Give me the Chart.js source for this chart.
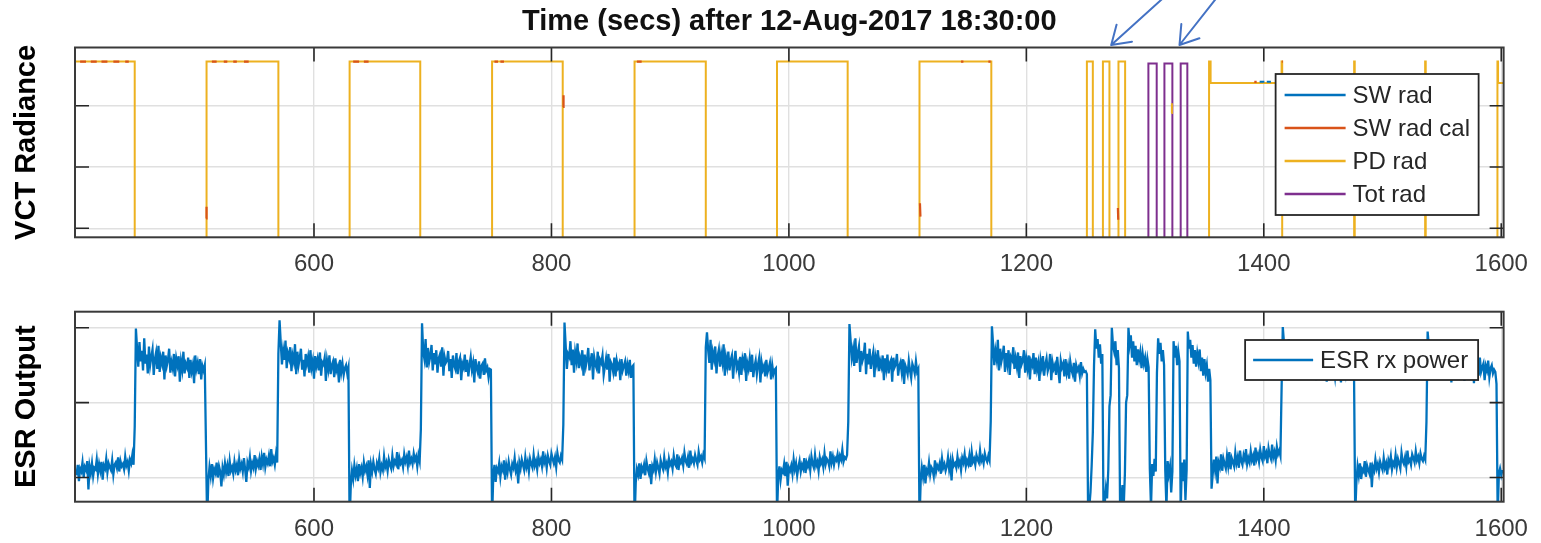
<!DOCTYPE html>
<html><head><meta charset="utf-8">
<script src="https://cdn.jsdelivr.net/npm/chart.js@4.4.1/dist/chart.umd.min.js"></script>
<style>
html,body{margin:0;padding:0;background:#fff;width:1541px;height:543px;overflow:hidden;}
canvas{position:absolute;left:0;}
#c1{top:0;} #c2{top:290px;}
</style></head><body>
<canvas id="c1" width="1541" height="290" style="width:1541px;height:290px"></canvas>
<canvas id="c2" width="1541" height="253" style="width:1541px;height:253px"></canvas>
<script>
// ---------- text ----------
const titleText = 'Time (secs) after 12-Aug-2017 18:30:00';
const topYLabel = 'VCT Radiance';
const bottomYLabel = 'ESR Output';

// ---------- axes ----------
const xTickValues = [600, 800, 1000, 1200, 1400, 1600];
const xRange = [398.7, 1602];
const yTickValuesTop = [0, 100, 200];
const yRangeTop = [-14.7, 295];
const yTickValuesBottom = [0, 100, 200];
const yRangeBottom = [-32.3, 221.4];

// ---------- top panel series ----------
const pdRadTimes  = [398, 449, 509.5, 570, 630, 689.5, 750, 809.5, 870, 930, 990, 1049.5, 1110, 1170.5, 1251, 1256, 1264.5, 1270, 1277.6, 1283.2, 1300, 1322.2, 1322.6, 1340, 1353.6, 1353.9, 1355.2, 1415, 1415.5, 1476.1, 1476.6, 1535.9, 1536.4, 1596.8, 1597.3, 1602];
const pdRadValues = [272, -100, 272, -100, 272, -100, 272, -100, 272, -100, 272, -100, 272, -100, 272, -100, 272, -100, 272, -100, null, 188, 204, null, -100, 272, 237, 272, -100, 272, -100, 272, -100, 272, 237, 237];

const totRadTimes  = [1290, 1302.8, 1309.8, 1316.3, 1323, 1330, 1335.6, 1345];
const totRadValues = [-100, 269, -100, 269, -100, 269, -100, -100];

const swRadCalSegTimes  = [[403,408],[412,417],[421,426],[431,436],[441,444],[509.1,509.5],[514,518],[524,527],[532,535],[541,545],[633,638],[642,646],[752,755],[757,760],[809.8,810.2],[872,876],[1110.4,1110.8],[1145,1147],[1168,1170],[1277.1,1277.4],[1392,1394],[1415.2,1416]];
const swRadCalSegValues = [[272,272],[272,272],[272,272],[272,272],[272,272],[16,35],[272,272],[272,272],[272,272],[272,272],[272,272],[272,272],[272,272],[272,272],[198,217],[272,272],[41,19],[272,272],[272,272],[33,14],[239,239],[272,272]];

const swRadSegTimes  = [[1396.5,1400.5],[1402.5,1406]];
const swRadSegValues = [[239,239],[239,239]];

// ---------- bottom panel series (ESR rx power, 1 s sampling inside each segment) ----------
const esrSegStep = 1;
const esrSegStart = [400, 449, 510, 570, 630, 690, 750, 810, 870, 930, 990, 1050, 1110, 1170, 1250, 1357, 1415, 1477, 1537, 1597];
const esrSegValues = [
  [3, 17, -5, 12, 8, 20, 0, 14, 10, 22, -16, 15, 6, 19, 2, 13, 11, 24, 5, 18, 9, 21, -3, 16, 12, 25, 7, 19, 14, 10, 23, 4, 17, 20, 13, 27, 8, 22, 15, 18, 11, 28, 16, 21, 9, 24, 19, 30, 17],
  [68, 199, 172, 148, 181, 155, 169, 143, 186, 152, 164, 139, 175, 150, 161, 171, 137, 158, 167, 145, 176, 141, 160, 152, 168, 131, 163, 149, 157, 172, 140, 154, 146, 165, 135, 159, 150, 162, 128, 155, 144, 168, 139, 152, 147, 160, 133, 157, 142, 151, 126, 163, 145, 153, 138, 158, 131, 149, 143, 150],
  [-60, -4, 14, 2, 18, -1, 11, 6, 20, 0, 15, 8, -12, 13, 4, 19, 7, 16, 2, 22, 9, 14, 5, 21, 10, 17, 3, 24, 12, 18, 8, 26, 11, -6, 20, 14, 27, 9, 19, 13, 30, 12, 22, 16, 25, 10, 28, 18, 33, 14, 24, 19, 29, 15, 38, 21, 26, 17, 31, 20],
  [165, 210, 180, 151, 170, 157, 183, 146, 166, 159, 174, 142, 163, 155, 178, 138, 168, 150, 160, 172, 144, 157, 135, 165, 152, 161, 140, 170, 147, 156, 132, 162, 149, 158, 143, 167, 136, 154, 151, 160, 129, 156, 145, 163, 138, 150, 155, 134, 159, 143, 148, 127, 157, 141, 152, 137, 146, 150, 139, 147],
  [-60, -10, 9, -2, 16, 3, 12, -5, 18, 6, 13, 1, 20, 9, 15, 4, 23, -14, 17, 8, 21, 11, 5, 19, 13, 25, 7, 16, 10, 28, 14, 20, 9, 24, 17, 12, 29, 15, 22, 18, 34, 11, 26, 19, 23, 14, 31, 21, 27, 16, 36, 20, 25, 18, 32, 23, 28, 15, 30, 22],
  [64, 206, 168, 158, 185, 147, 173, 154, 162, 177, 143, 166, 151, 170, 140, 159, 164, 148, 174, 136, 161, 153, 156, 169, 142, 158, 133, 163, 150, 145, 166, 138, 155, 160, 130, 152, 147, 164, 141, 157, 135, 150, 161, 144, 153, 127, 158, 146, 140, 155, 132, 149, 152, 137, 159, 143, 147, 134, 145, 144],
  [-55, 2, 17, -6, 12, 8, 19, 1, 15, 10, 23, -3, 16, 7, 21, 11, 4, 18, 13, 26, 9, 15, -8, 20, 12, 24, 17, 10, 27, 14, 21, 8, 25, 18, 13, 30, 16, 22, 11, 28, 19, 24, 15, 35, 20, 26, 13, 29, 22, 17, 32, 25, 19, 27, 14, 33, 23, 20, 29, 24],
  [70, 207, 176, 145, 165, 161, 182, 150, 171, 140, 167, 156, 179, 146, 160, 152, 170, 136, 164, 149, 158, 173, 143, 155, 166, 131, 161, 151, 146, 168, 139, 157, 153, 163, 137, 148, 159, 144, 165, 128, 154, 150, 141, 160, 135, 156, 147, 152, 130, 158, 143, 149, 155, 136, 151, 142, 157, 133, 148, 150],
  [-60, -7, 11, 4, 19, -2, 14, 9, 17, 3, 22, 12, 6, 18, -9, 15, 10, 24, 8, 20, 13, 5, 23, 16, 11, 27, 14, 19, 7, 25, 17, 21, 12, 29, 18, 15, 31, 10, 24, 20, 26, 16, 33, 22, 18, 27, 13, 36, 21, 25, 19, 30, 23, 17, 34, 24, 28, 20, 31, 26],
  [174, 194, 170, 153, 184, 144, 167, 158, 175, 139, 162, 171, 148, 165, 154, 178, 136, 160, 149, 168, 143, 157, 163, 132, 155, 169, 146, 152, 140, 161, 137, 158, 150, 166, 129, 153, 145, 159, 141, 164, 134, 148, 156, 138, 151, 160, 127, 154, 144, 149, 135, 157, 140, 146, 153, 131, 150, 138, 144, 146],
  [-50, 0, 15, -3, 10, 7, 18, 2, 21, -11, 13, 9, 16, 5, 24, 11, 19, 3, 14, 22, 8, 17, 12, 26, 6, 20, 15, 23, 10, 28, 18, 13, 30, 16, 21, 9, 27, 19, 24, 14, 32, 18, 25, 22, 15, 35, 20, 28, 17, 26, 23, 31, 19, 29, 24, 37, 21, 27, 25, 30],
  [74, 205, 183, 160, 171, 149, 186, 153, 166, 175, 141, 169, 156, 162, 180, 138, 165, 151, 172, 145, 158, 167, 134, 161, 152, 170, 142, 155, 148, 163, 130, 159, 146, 164, 139, 153, 157, 128, 160, 147, 151, 165, 136, 149, 154, 141, 158, 125, 150, 145, 138, 156, 143, 133, 152, 147, 139, 155, 141, 145],
  [-60, -5, 13, 1, 17, -8, 10, 6, 20, 4, 14, 11, 2, 23, 8, 16, 12, 19, 5, 25, 13, 18, 9, 15, 27, 11, 21, -4, 24, 16, 19, 13, 28, 17, 22, 10, 26, 20, 31, 15, 23, 18, 29, 14, 34, 21, 25, 17, 30, 24, 20, 36, 22, 27, 19, 32, 25, 21, 29, 23],
  [75, 202, 178, 150, 169, 158, 184, 143, 172, 155, 163, 176, 141, 166, 152, 170, 137, 161, 157, 174, 145, 159, 148, 167, 133, 162, 151, 156, 170, 140, 158, 146, 163, 131, 155, 150, 166, 138, 160, 144, 153, 129, 157, 147, 162, 136, 151, 159, 142, 148, 165, 130, 154, 145, 150, 137, 161, 143, 126, 156, 147, 152, 135, 158, 140, 149, 132, 155, 144, 138, 153, 128, 150, 143, 147, 136, 154, 139, 145, 141],
  [142, 138, -45, -40, -20, 15, 60, 150, 198, 172, 185, 160, 178, 152, 165, -50, -35, -15, -28, 10, 95, 110, 200, 176, 168, 182, 150, 170, 146, -50, -30, -10, -40, 5, 100, 110, 200, 178, 190, 160, 182, 155, 176, 150, 171, 158, 168, 146, 165, 152, 160, 141, 158, 147, 12, -40, 18, 2, 25, 8, 140, 186, 165, 180, 155, 170, 150, 10, -40, 22, 5, 15, -20, 8, 182, 160, 176, 150, 168, 155, -45, 20, -5, 24, -30, 10, 195, 172, 184, 160, 177, 152, 170, 148, 166, 155, 171, 142, 160, 136, 158, 140, 150, 128, 145, 130, -15],
  [5, 24, 10, 28, -8, 20, 14, 31, 9, 25, 18, 12, 29, 16, 34, 11, 26, 21, 15, 33, 19, 27, 13, 36, 22, 17, 30, 24, 38, 18, 26, 20, 35, 23, 29, 16, 40, 25, 31, 21, 37, 27, 22, 42, 28, 33, 19, 39, 30, 25, 44, 27, 34, 23, 41, 31, 36, 29],
  [120, 201, 180, 147, 172, 160, 185, 151, 168, 142, 176, 155, 163, 170, 138, 159, 152, 174, 145, 166, 133, 161, 156, 148, 169, 140, 158, 153, 164, 130, 155, 147, 162, 137, 151, 159, 143, 167, 128, 154, 149, 160, 139, 157, 146, 134, 152, 158, 141, 150, 127, 156, 144, 148, 138, 153, 131, 149, 142, 146, 137, 138],
  [-50, -6, 15, 3, 19, -2, 11, 8, 22, 1, 16, 10, 5, 20, -13, 14, 9, 24, 12, 18, 7, 21, 15, 10, 26, 13, 19, 4, 23, 17, 28, 11, 20, 16, 30, 14, 25, 19, 12, 33, 22, 18, 27, 15, 36, 21, 24, 17, 31, 26, 20, 35, 23, 28, 19, 32, 25, 22, 29, 24],
  [74, 195, 176, 143, 170, 158, 182, 137, 164, 151, 173, 147, 161, 168, 132, 156, 149, 171, 140, 163, 154, 127, 160, 145, 165, 138, 152, 158, 135, 162, 147, 150, 129, 157, 143, 166, 139, 153, 148, 159, 126, 151, 144, 155, 136, 160, 141, 147, 152, 130, 149, 143, 156, 134, 146, 150, 139, 144, 141, 125],
  [-50, 5, 12, 3, 10]
];

// ---------- annotation arrows (tip times on the top axis) ----------
const arrowTipTimes = [1271.5, 1329];

// ---------- helpers ----------
const FONT = "'Liberation Sans', Arial, Helvetica, sans-serif";
const pairs = (t, v) => t.map((x, i) => ({x, y: v[i]}));
const segs = (T, V) => {
  const out = [];
  T.forEach((seg, k) => {
    if (k) out.push({x: (T[k-1][T[k-1].length-1] + seg[0]) / 2, y: null});
    seg.forEach((x, i) => out.push({x, y: V[k][i]}));
  });
  return out;
};
const esrData = [];
esrSegStart.forEach((s, k) => esrSegValues[k].forEach((v, j) => esrData.push({x: s + esrSegStep * j, y: v})));

// ---------- plugins ----------
const framePlugin = {
  id: 'matlabFrame',
  afterDatasetsDraw(chart, args, o) {
    const {ctx, chartArea: a, scales: {x, y}} = chart;
    ctx.save();
    ctx.strokeStyle = '#262626';
    ctx.lineWidth = 1.6;
    ctx.beginPath();
    o.xTicks.forEach(v => {
      const px = x.getPixelForValue(v);
      ctx.moveTo(px, a.top); ctx.lineTo(px, a.top + o.len);
      ctx.moveTo(px, a.bottom); ctx.lineTo(px, a.bottom - o.len);
    });
    o.yTicks.forEach(v => {
      const py = y.getPixelForValue(v);
      ctx.moveTo(a.left, py); ctx.lineTo(a.left + o.len, py);
      ctx.moveTo(a.right, py); ctx.lineTo(a.right - o.len, py);
    });
    ctx.stroke();
    ctx.lineWidth = 2;
    ctx.strokeStyle = '#3a3a3a';
    ctx.strokeRect(a.left, a.top, a.right - a.left, a.bottom - a.top);
    ctx.restore();
  }
};

const boxLegend = {
  id: 'boxLegend',
  afterDraw(chart, args, o) {
    const {ctx, chartArea: a} = chart;
    const left = a.right - o.right - o.width, top = a.top + o.top;
    ctx.save();
    ctx.fillStyle = '#fff';
    ctx.fillRect(left, top, o.width, o.height);
    ctx.strokeStyle = '#262626';
    ctx.lineWidth = 1.8;
    ctx.strokeRect(left, top, o.width, o.height);
    ctx.font = '24px ' + FONT;
    ctx.textBaseline = 'middle';
    ctx.textAlign = 'left';
    chart.data.datasets.forEach((ds, i) => {
      const yy = top + o.firstRow + i * o.rowGap;
      ctx.strokeStyle = ds.borderColor;
      ctx.lineWidth = 2.5;
      ctx.beginPath();
      ctx.moveTo(left + o.lineStart, yy); ctx.lineTo(left + o.lineEnd, yy);
      ctx.stroke();
      ctx.fillStyle = '#262626';
      ctx.fillText(ds.label, left + o.textX, yy + 1);
    });
    ctx.restore();
  }
};

const arrowPlugin = {
  id: 'arrows',
  afterDraw(chart, args, o) {
    const {ctx, chartArea: a, scales: {x}} = chart;
    ctx.save();
    ctx.strokeStyle = o.color;
    ctx.lineWidth = o.width;
    ctx.lineCap = 'round';
    o.tips.forEach((t, i) => {
      const tx = x.getPixelForValue(t), ty = a.top + o.tipDy;
      const [dx, dy] = o.tails[i];
      const sx = tx + dx, sy = ty + dy;
      const ang = Math.atan2(sy - ty, sx - tx);
      ctx.beginPath();
      ctx.moveTo(sx, sy); ctx.lineTo(tx, ty);
      [-1, 1].forEach(s => {
        ctx.moveTo(tx, ty);
        ctx.lineTo(tx + o.head * Math.cos(ang + s * o.spread), ty + o.head * Math.sin(ang + s * o.spread));
      });
      ctx.stroke();
    });
    ctx.restore();
  }
};

function scalesFor(yLabel, yRange, yTicks, xAxisHeight) {
  return {
    x: {
      type: 'linear', min: xRange[0], max: xRange[1],
      afterBuildTicks: s => { s.ticks = xTickValues.map(v => ({value: v})); },
      afterFit: s => { s.height = xAxisHeight; },
      ticks: { font: {family: FONT, size: 24}, color: '#3a3a3a', padding: 13, maxRotation: 0, autoSkip: false, callback: v => String(v) },
      grid: { color: '#e0e0e0', lineWidth: 1.4, drawTicks: false },
      border: { display: false }
    },
    y: {
      type: 'linear', min: yRange[0], max: yRange[1],
      afterBuildTicks: s => { s.ticks = yTicks.map(v => ({value: v})); },
      afterFit: s => { s.width = 75; },
      ticks: { display: false },
      grid: { color: '#e0e0e0', lineWidth: 1.4, drawTicks: false },
      border: { display: false },
      title: { display: true, text: yLabel, font: {family: FONT, size: 29, weight: 'bold'}, color: '#000', padding: {top: 10, bottom: 0} }
    }
  };
}

const lineBase = { pointRadius: 0, pointHoverRadius: 0, tension: 0, fill: false, spanGaps: false, clip: 0 };

// ---------- top chart ----------
new Chart(document.getElementById('c1'), {
  type: 'line',
  data: {
    datasets: [
      Object.assign({ label: 'SW rad', data: segs(swRadSegTimes, swRadSegValues), borderColor: '#0072BD', borderWidth: 2 }, lineBase),
      Object.assign({ label: 'SW rad cal', data: segs(swRadCalSegTimes, swRadCalSegValues), borderColor: '#D95319', borderWidth: 2.2 }, lineBase),
      Object.assign({ label: 'PD rad', data: pairs(pdRadTimes, pdRadValues), borderColor: '#EDB120', borderWidth: 2, stepped: true }, lineBase),
      Object.assign({ label: 'Tot rad', data: pairs(totRadTimes, totRadValues), borderColor: '#7E2F8E', borderWidth: 2, stepped: true }, lineBase)
    ]
  },
  options: {
    responsive: false, animation: false, devicePixelRatio: 1,
    layout: { padding: { left: 0, right: 36, top: 0, bottom: 0 } },
    scales: scalesFor(topYLabel, yRangeTop, yTickValuesTop, 52.7),
    plugins: {
      legend: { display: false }, tooltip: { enabled: false },
      title: { display: true, text: titleText, fullSize: false, font: {family: FONT, size: 29, weight: 'bold'}, color: '#111', padding: {top: 5, bottom: 7.7} },
      matlabFrame: { xTicks: xTickValues, yTicks: yTickValuesTop, len: 14 },
      boxLegend: { right: 25, top: 26.5, width: 203, height: 141, firstRow: 21, rowGap: 33, lineStart: 9, lineEnd: 70, textX: 77 },
      arrows: { tips: arrowTipTimes, tails: [[52, -47], [37, -47]], tipDy: -2.5, head: 21, spread: 0.58, color: '#4472C4', width: 2 }
    }
  },
  plugins: [framePlugin, boxLegend, arrowPlugin]
});

// ---------- bottom chart ----------
new Chart(document.getElementById('c2'), {
  type: 'line',
  data: {
    datasets: [
      Object.assign({ label: 'ESR rx power', data: esrData, borderColor: '#0072BD', borderWidth: 2.3 }, lineBase)
    ]
  },
  options: {
    responsive: false, animation: false, devicePixelRatio: 1,
    layout: { padding: { left: 0, right: 36, top: 21.7, bottom: 0 } },
    scales: scalesFor(bottomYLabel, yRangeBottom, yTickValuesBottom, 41.3),
    plugins: {
      legend: { display: false }, tooltip: { enabled: false },
      matlabFrame: { xTicks: xTickValues, yTicks: yTickValuesBottom, len: 14 },
      boxLegend: { right: 25.5, top: 28.3, width: 233, height: 40, firstRow: 20, rowGap: 33, lineStart: 8, lineEnd: 68, textX: 75 }
    }
  },
  plugins: [framePlugin, boxLegend]
});
</script></body></html>
